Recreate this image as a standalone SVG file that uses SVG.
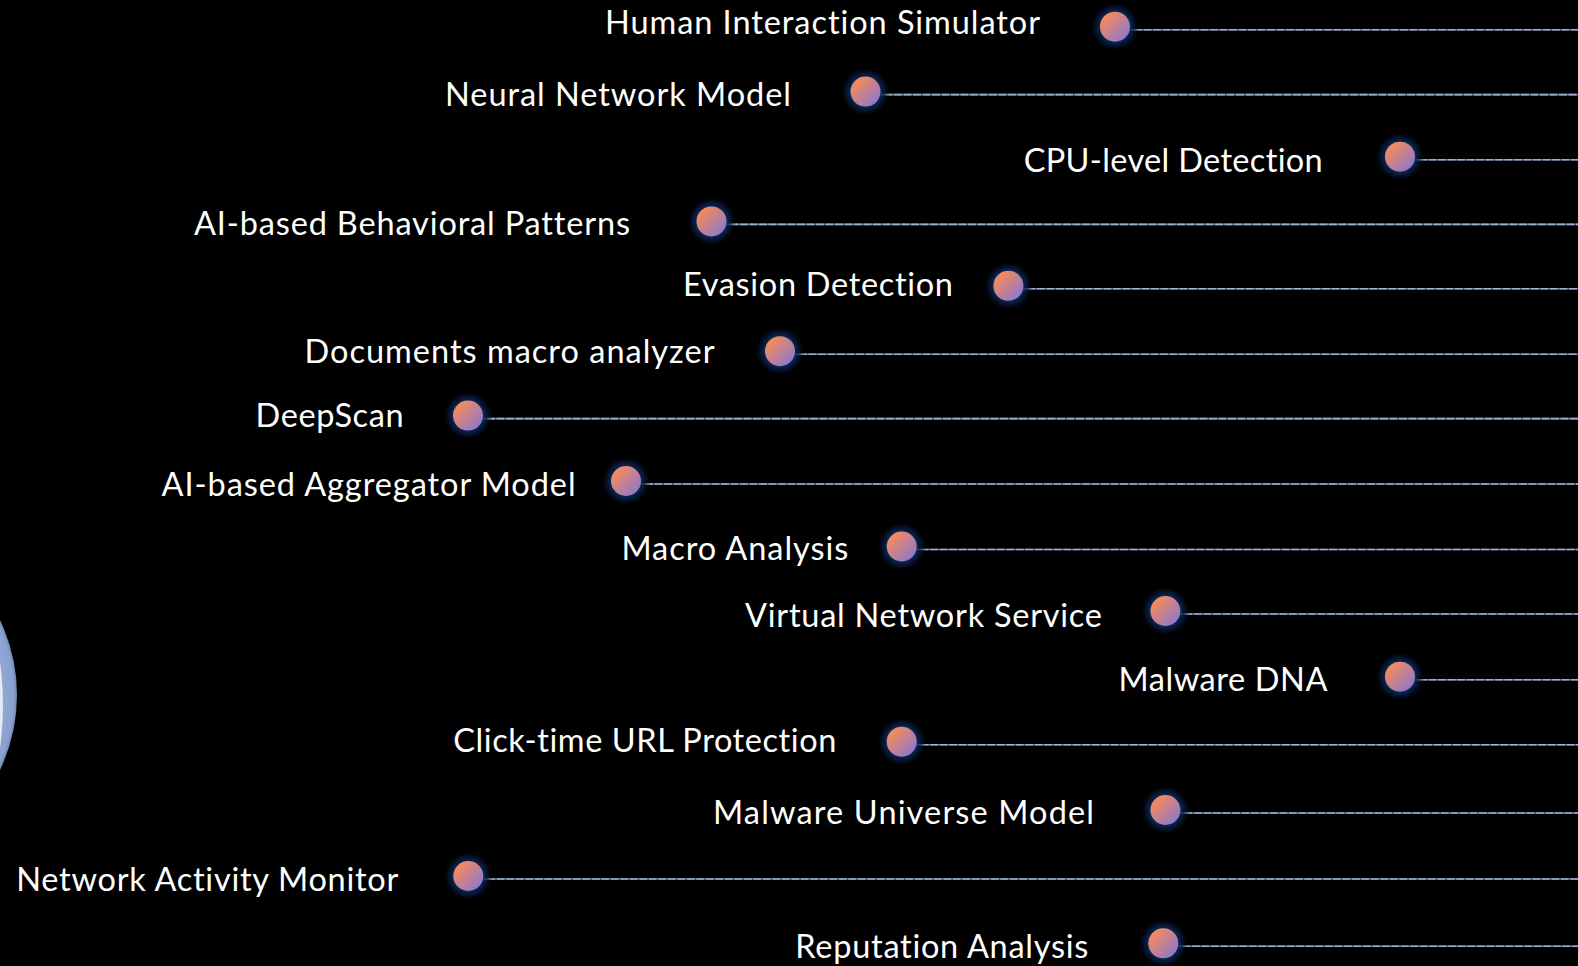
<svg xmlns="http://www.w3.org/2000/svg" width="1578" height="966" viewBox="0 0 1578 966">
<defs>
<linearGradient id="dotg" x1="0.15" y1="0.15" x2="0.9" y2="0.9">
<stop offset="0" stop-color="#f98a58"/>
<stop offset="1" stop-color="#8a78d0"/>
</linearGradient>
<radialGradient id="glow" cx="0.5" cy="0.5" r="0.5">
<stop offset="0.55" stop-color="#0b2f66" stop-opacity="1"/>
<stop offset="0.8" stop-color="#061a3c" stop-opacity="0.6"/>
<stop offset="1" stop-color="#000" stop-opacity="0"/>
</radialGradient>
<radialGradient id="ringg" cx="0.5" cy="0.5" r="0.5">
<stop offset="0.9" stop-color="#93aad6"/>
<stop offset="0.98" stop-color="#8aa1cf"/>
<stop offset="1" stop-color="#6f86b8"/>
</radialGradient>
</defs>
<style>
.lbl{font-family:Lato,"Open Sans","Liberation Sans",sans-serif;font-size:32.5px;fill:#ffffff;text-anchor:end;font-variant-ligatures:none}
.base{stroke:#5a6782;stroke-width:1.6;fill:none}
.dash{stroke:#9db1d8;stroke-width:1.6;fill:none;stroke-dasharray:8 1.5}
.dot{fill:url(#dotg)}
.halo{fill:url(#glow)}
</style>
<rect width="1578" height="966" fill="#000"/>
<g id="hub">
<circle cx="-157" cy="695" r="174" fill="url(#ringg)"/>
<circle cx="-306" cy="705" r="309" fill="#e4eaf4"/>
</g>
<g id="connectors">
<path class="base" d="M1115 29.7H1578M865.5 94.6H1578M1400 159.7H1578M711.5 224.4H1578M1008.4 288.8H1578M780 354.2H1578M468 418.6H1578M626 484H1578M901.7 549.5H1578M1165.4 614H1578M1400 679.7H1578M901.7 744.7H1578M1165.4 813H1578M468.3 879H1578M1163.3 946.3H1578"/>
<path class="dash" d="M1115 29.7H1578M865.5 94.6H1578M1400 159.7H1578M711.5 224.4H1578M1008.4 288.8H1578M780 354.2H1578M468 418.6H1578M626 484H1578M901.7 549.5H1578M1165.4 614H1578M1400 679.7H1578M901.7 744.7H1578M1165.4 813H1578M468.3 879H1578M1163.3 946.3H1578"/>
</g>
<g id="n1"><text class="lbl" x="1040" y="34" textLength="435">Human Interaction Simulator</text><circle class="halo" cx="1115" cy="26.7" r="25"/><circle class="dot" cx="1115" cy="26.7" r="15"/></g>
<g id="n2"><text class="lbl" x="791" y="106" textLength="346">Neural Network Model</text><circle class="halo" cx="865.5" cy="91.6" r="25"/><circle class="dot" cx="865.5" cy="91.6" r="15"/></g>
<g id="n3"><text class="lbl" x="1322.7" y="171.5" textLength="299">CPU-level Detection</text><circle class="halo" cx="1400" cy="156.7" r="25"/><circle class="dot" cx="1400" cy="156.7" r="15"/></g>
<g id="n4"><text class="lbl" x="630" y="235" textLength="436">AI-based Behavioral Patterns</text><circle class="halo" cx="711.5" cy="221.4" r="25"/><circle class="dot" cx="711.5" cy="221.4" r="15"/></g>
<g id="n5"><text class="lbl" x="953" y="295.5" textLength="270">Evasion Detection</text><circle class="halo" cx="1008.4" cy="285.8" r="25"/><circle class="dot" cx="1008.4" cy="285.8" r="15"/></g>
<g id="n6"><text class="lbl" x="714.5" y="362.5" textLength="410">Documents macro analyzer</text><circle class="halo" cx="780" cy="351.2" r="25"/><circle class="dot" cx="780" cy="351.2" r="15"/></g>
<g id="n7"><text class="lbl" x="403.6" y="427" textLength="148">DeepScan</text><circle class="halo" cx="468" cy="415.6" r="25"/><circle class="dot" cx="468" cy="415.6" r="15"/></g>
<g id="n8"><text class="lbl" x="575.6" y="495.5" textLength="414">AI-based Aggregator Model</text><circle class="halo" cx="626" cy="481" r="25"/><circle class="dot" cx="626" cy="481" r="15"/></g>
<g id="n9"><text class="lbl" x="848.4" y="560" textLength="227">Macro Analysis</text><circle class="halo" cx="901.7" cy="546.5" r="25"/><circle class="dot" cx="901.7" cy="546.5" r="15"/></g>
<g id="n10"><text class="lbl" x="1102" y="626.5" textLength="357">Virtual Network Service</text><circle class="halo" cx="1165.4" cy="611" r="25"/><circle class="dot" cx="1165.4" cy="611" r="15"/></g>
<g id="n11"><text class="lbl" x="1327.4" y="690.5" textLength="209">Malware DNA</text><circle class="halo" cx="1400" cy="676.7" r="25"/><circle class="dot" cx="1400" cy="676.7" r="15"/></g>
<g id="n12"><text class="lbl" x="836.3" y="751.5" textLength="383">Click-time URL Protection</text><circle class="halo" cx="901.7" cy="741.7" r="25"/><circle class="dot" cx="901.7" cy="741.7" r="15"/></g>
<g id="n13"><text class="lbl" x="1094" y="824" textLength="381">Malware Universe Model</text><circle class="halo" cx="1165.4" cy="810" r="25"/><circle class="dot" cx="1165.4" cy="810" r="15"/></g>
<g id="n14"><text class="lbl" x="398.3" y="890.5" textLength="382">Network Activity Monitor</text><circle class="halo" cx="468.3" cy="876" r="25"/><circle class="dot" cx="468.3" cy="876" r="15"/></g>
<g id="n15"><text class="lbl" x="1088.3" y="958" textLength="293">Reputation Analysis</text><circle class="halo" cx="1163.3" cy="943.3" r="25"/><circle class="dot" cx="1163.3" cy="943.3" r="15"/></g>
</svg>
